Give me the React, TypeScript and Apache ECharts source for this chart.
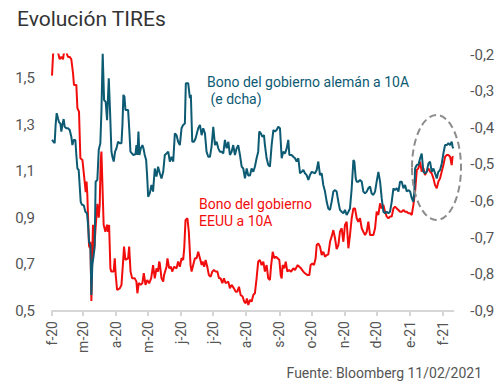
import React, { useEffect, useRef } from "react";
import * as echarts from "echarts";

// ---- Data ----
const START = "2020-02-01";
const END = "2021-02-11";
const monthStarts = ["2020-02-01", "2020-03-01", "2020-04-01", "2020-05-01", "2020-06-01", "2020-07-01", "2020-08-01", "2020-09-01", "2020-10-01", "2020-11-01", "2020-12-01", "2021-01-01", "2021-02-01"];
const monthLabels = ["f-20", "m-20", "a-20", "m-20", "j-20", "j-20", "a-20", "s-20", "o-20", "n-20", "d-20", "e-21", "f-21"];

const leftTicks = ["0,5", "0,7", "0,9", "1,1", "1,3", "1,5"];

// US 10Y (left axis) — days since 2020-02-01
const usDays = [0, 1, 2.5, 4, 5.6, 7.2, 8.8, 10.3, 11.9, 13.4, 15, 16.6, 18.1, 19.7, 20.6, 22.8, 23.8, 25.3, 26.6, 28.5, 30.6, 31.6, 32.4, 33.1, 33.8, 34.7, 35.4, 36, 36.9, 37.8, 38.4, 39.4, 40.6, 42.5, 43.8, 44.7, 45.6, 46.3, 47.2, 48.4, 50, 51.6, 52.5, 53.5, 54.7, 55.6, 57.8, 58.8, 59.7, 61, 63.5, 65.1, 66.6, 67.5, 68.8, 71.3, 72.3, 73.6, 75.1, 77.6, 79.1, 80, 81.3, 83.1, 84.7, 86, 87.6, 89.2, 91, 92.9, 94.7,
  96.3, 97.9, 99.4, 100.4, 101, 102.6, 104.2, 105, 107.3, 108.2, 109.8, 111.4, 112.6, 114.5, 116.7, 118.2, 119.8, 121.4, 122.9, 123.9, 125.1, 126.9, 128.2, 129.8, 130.8, 132.3, 133.9, 135.5, 137, 138.6, 140.2, 141.1, 142.6, 143.9, 145.5, 147, 148.6, 150.2, 151.7, 153.3, 154.9, 156.5, 158, 159.6, 161.1, 162.7, 165.2, 166.7, 168.3, 170.5, 172.1, 173.6, 175.2, 176.7, 178.6, 180.1, 181.4, 182.6, 183.9, 185.5, 187, 188.6,
  190.1, 191.7, 193.2, 194.8, 196.4, 198, 199.5, 201.1, 202.6, 204.2, 205.2, 206.8, 208.3, 209.8, 211.4, 213, 214.3, 215.2, 216.1, 217.7, 219, 220.5, 222.1, 224, 226.1, 227.7, 230.2, 231.7, 233.3, 235.5, 237, 239.5, 241.1, 242.3, 243.9, 245.5, 247, 248, 249.5, 251.1, 252.7, 254.2, 255.8, 257.4, 258.9, 260.5, 262, 263.6, 265.2, 266.7, 268.3, 269.8, 271.4, 273, 274.5, 276.1, 277.7, 279.2, 280.8, 282.4,
  283.9, 285.5, 287, 288.6, 290.2, 291.7, 293.3, 294.9, 296.4, 298, 299.5, 301.1, 302.7, 304.2, 305.8, 307.4, 308.9, 310.5, 312, 313.6, 315.2, 316.7, 318.3, 319.9, 321.4, 323, 324.6, 326.1, 327.7, 329.3, 330.8, 332.4, 333.9, 335.5, 337.1, 338.6, 340.2, 341.8, 343.3, 344.9, 346.4, 348, 349.5, 351.1, 352.7, 354.2, 355.8, 357.4, 358.9, 360.5, 362, 363.6, 365.2, 366.7, 368.3, 369.9, 371.4, 373, 374.5, 375.3, 376];
const usYield = [1.51, 1.6, 1.64, 1.63, 1.61, 1.58, 1.59, 1.58, 1.63, 1.61, 1.59, 1.59, 1.58, 1.52, 1.47, 1.47, 1.37, 1.355, 1.155, 1.148, 1.055, 1.01, 1.055, 1.0, 0.9, 0.78, 0.77, 0.797, 0.543, 0.754, 0.87, 0.754, 0.84, 0.96, 0.9, 0.955, 1.14, 1.184, 1.05, 0.87, 0.84, 0.87, 0.84, 0.869, 0.683, 0.669, 0.669, 0.726, 0.655, 0.59, 0.597, 0.612, 0.712, 0.776, 0.719, 0.726, 0.776, 0.669, 0.64, 0.64, 0.626, 0.576, 0.62, 0.612, 0.62, 0.662, 0.612, 0.633, 0.619, 0.64, 0.697,
  0.64, 0.683, 0.669, 0.712, 0.704, 0.64, 0.626, 0.654, 0.69, 0.726, 0.683, 0.69, 0.669, 0.69, 0.683, 0.712, 0.69, 0.726, 0.719, 0.77, 0.89, 0.898, 0.84, 0.697, 0.669, 0.697, 0.726, 0.726, 0.754, 0.726, 0.697, 0.712, 0.69, 0.719, 0.69, 0.654, 0.647, 0.669, 0.676, 0.669, 0.669, 0.64, 0.64, 0.619, 0.64, 0.619, 0.626, 0.597, 0.612, 0.597, 0.583, 0.583, 0.604, 0.569, 0.562, 0.54, 0.533, 0.554, 0.526, 0.548, 0.54, 0.569,
  0.576, 0.64, 0.712, 0.719, 0.697, 0.712, 0.669, 0.697, 0.64, 0.633, 0.69, 0.754, 0.726, 0.733, 0.726, 0.719, 0.654, 0.64, 0.697, 0.683, 0.712, 0.669, 0.676, 0.669, 0.683, 0.676, 0.697, 0.69, 0.683, 0.669, 0.662, 0.654, 0.654, 0.697, 0.704, 0.697, 0.726, 0.783, 0.79, 0.776, 0.74, 0.754, 0.733, 0.74, 0.743, 0.797, 0.819, 0.847, 0.812, 0.766, 0.783, 0.84, 0.855, 0.797, 0.869, 0.883, 0.769, 0.826, 0.898, 0.94,
  0.94, 0.898, 0.883, 0.898, 0.855, 0.84, 0.826, 0.84, 0.883, 0.826, 0.826, 0.826, 0.855, 0.926, 0.912, 0.962, 0.94, 0.955, 0.926, 0.905, 0.898, 0.905, 0.905, 0.94, 0.948, 0.94, 0.933, 0.926, 0.926, 0.933, 0.926, 0.926, 0.919, 0.919, 0.912, 0.955, 1.012, 1.105, 1.112, 1.141, 1.098, 1.112, 1.083, 1.098, 1.112, 1.098, 1.09, 1.069, 1.04, 1.026, 1.055, 1.069, 1.098, 1.126, 1.162, 1.169, 1.169, 1.162, 1.126, 1.162, 1.16];

// German 10Y (right axis)
const deDays = [0, 0.9, 2.5, 3.4, 4.4, 5.6, 6.6, 7.8, 8.8, 9.7, 10.9, 11.9, 13.4, 15, 16.6, 18.1, 19.1, 20.3, 21.9, 22.8, 23.8, 25, 25.9, 26.9, 28.1, 29.7, 31.3, 32.8, 33.8, 34.7, 36, 36.9, 37.8, 39.1, 40, 40.9, 42.5, 43.8, 45.3, 46.3, 47.5, 48.8, 50.3, 51.6, 53.2, 54.4, 55.7, 56.6, 57.8, 59.1, 60.4, 61.9, 63.5, 65.1, 66, 66.9, 67.9, 68.8, 71.3, 72.5, 73.5, 76, 78.2, 79.1, 80, 81, 81.9, 83.2, 84.7, 85.7, 86.9, 88.2, 89.1, 90.1, 91.6, 93.2, 94.7,
  96.3, 97.9, 99.4, 101, 102.6, 104.2, 105.7, 107.3, 108.9, 110.4, 112, 113.6, 115.1, 116.7, 118.2, 119.8, 121.4, 122.9, 124.5, 125.4, 127.6, 129.2, 130.1, 131.4, 133, 134.5, 137, 138.6, 140.2, 141.7, 143.3, 144.8, 146.4, 148, 149.5, 151.1, 152.7, 154.2, 155.8, 157.4, 158.9, 160.5, 162, 163.6, 165.2, 166.7, 168.3, 169.8, 171.4, 173, 174.5, 176.1, 177.7, 179.2, 180.8, 182.4, 183.9, 185.5, 187, 188.6,
  190.1, 191.7, 193.2, 194.2, 195.7, 197, 198.6, 199.5, 201.1, 202.6, 204.2, 205.8, 207.4, 208.9, 210.5, 212, 213.6, 215.2, 216.7, 218.3, 219.9, 221.4, 222.4, 224.5, 226.1, 227.7, 229.2, 230.8, 232.4, 233.9, 235.5, 237, 238.6, 240.2, 241.7, 243.3, 246.4, 248, 249.5, 251.1, 252.7, 254.2, 255.8, 257.4, 258.9, 260.5, 262, 263.6, 265.2, 266.7, 268.3, 269.8, 271.4, 273, 274.5, 276.1, 277.7,
  279.2, 280.8, 282.4, 283.3, 284.6, 285.5, 287, 288.6, 290.2, 291.7, 293.3, 294.9, 296.4, 298, 299.5, 301.1, 302.7, 304.2, 305.8, 307.4, 308.9, 310.5, 312, 313.6, 315.2, 316.7, 318.3, 319.9, 321.4, 323, 324.6, 326.1, 327.7, 329.3, 330.8, 332.4, 333.9, 335.5, 337.1, 338.6, 339.5, 340.2, 341.8, 343.3, 344.9, 346.4, 348, 349.5, 351.1, 352.7, 354.2, 355.8, 357.4, 358.9, 360.5, 362, 363.6, 365.2, 366.7, 368.3, 369.9, 371.4, 373, 374.5, 375.3, 376];
const deYield = [-0.433, -0.436, -0.442, -0.392, -0.36, -0.374, -0.385, -0.388, -0.41, -0.392, -0.376, -0.397, -0.401, -0.401, -0.406, -0.424, -0.447, -0.433, -0.433, -0.474, -0.511, -0.515, -0.556, -0.602, -0.61, -0.611, -0.629, -0.633, -0.665, -0.711, -0.72, -0.856, -0.774, -0.747, -0.72, -0.547, -0.542, -0.46, -0.442, -0.356, -0.197, -0.324, -0.329, -0.379, -0.265, -0.356, -0.465, -0.479, -0.492, -0.465, -0.456, -0.438, -0.442, -0.442, -0.392, -0.31, -0.315, -0.351, -0.351, -0.41, -0.465, -0.474, -0.472, -0.447, -0.474, -0.41, -0.474, -0.456, -0.447, -0.456, -0.474, -0.488, -0.529, -0.588, -0.579, -0.556, -0.574,
  -0.511, -0.533, -0.506, -0.524, -0.538, -0.52, -0.474, -0.47, -0.465, -0.492, -0.479, -0.492, -0.415, -0.42, -0.438, -0.447, -0.401, -0.392, -0.388, -0.278, -0.278, -0.319, -0.31, -0.438, -0.438, -0.429, -0.401, -0.392, -0.42, -0.401, -0.415, -0.465, -0.479, -0.479, -0.451, -0.397, -0.447, -0.438, -0.456, -0.465, -0.465, -0.47, -0.433, -0.456, -0.438, -0.474, -0.465, -0.447, -0.474, -0.456, -0.447, -0.474, -0.506, -0.511, -0.538, -0.511, -0.53, -0.53, -0.511, -0.52,
  -0.506, -0.483, -0.465, -0.41, -0.415, -0.424, -0.42, -0.447, -0.483, -0.501, -0.506, -0.447, -0.406, -0.41, -0.406, -0.397, -0.401, -0.483, -0.465, -0.47, -0.456, -0.433, -0.474, -0.474, -0.479, -0.483, -0.492, -0.483, -0.524, -0.52, -0.515, -0.524, -0.529, -0.542, -0.529, -0.52, -0.524, -0.515, -0.492, -0.529, -0.524, -0.556, -0.574, -0.602, -0.62, -0.624, -0.602, -0.574, -0.57, -0.574, -0.602, -0.624, -0.629, -0.633, -0.624, -0.638, -0.629,
  -0.62, -0.565, -0.488, -0.492, -0.538, -0.547, -0.547, -0.542, -0.547, -0.574, -0.579, -0.574, -0.565, -0.56, -0.579, -0.583, -0.574, -0.547, -0.52, -0.547, -0.592, -0.629, -0.633, -0.629, -0.633, -0.629, -0.602, -0.565, -0.57, -0.565, -0.574, -0.547, -0.547, -0.565, -0.556, -0.574, -0.57, -0.574, -0.592, -0.602, -0.574, -0.511, -0.501, -0.501, -0.483, -0.47, -0.52, -0.524, -0.52, -0.497, -0.492, -0.52, -0.511, -0.524, -0.538, -0.52, -0.515, -0.497, -0.47, -0.447, -0.447, -0.442, -0.447, -0.438, -0.451, -0.456];

const US_NAME = "Bono del gobierno EEUU a 10A";
const DE_NAME = "Bono del gobierno alemán a 10A";

// ---- Helpers ----
const DAY = 86400000;
const dayOf = (s: string) => (Date.parse(s) - Date.parse(START)) / DAY;
const tickDays = monthStarts.map(dayOf);
const maxDay = dayOf(END);
const zip = (xs: number[], ys: number[]) => xs.map((x, i) => [x, ys[i]]);
const fmt = (v: number) => v.toFixed(1).replace(".", ",");

const FONT = "Roboto, 'Noto Sans', sans-serif";
const TEAL = "#0d5a73";
const RED = "#f20d0d";
const GREY_TXT = "#555555";

export default function App() {
  const ref = useRef<HTMLDivElement>(null);

  useEffect(() => {
    if (!ref.current) return;
    const chart = echarts.init(ref.current, undefined, { renderer: "svg" });
    chart.setOption({
      animation: false,
      backgroundColor: "#ffffff",
      textStyle: { fontFamily: FONT },
      grid: { left: 52, right: 46.7, top: 54.6, bottom: 80 },
      xAxis: {
        type: "value",
        min: 0,
        max: maxDay,
        splitLine: { show: false },
        axisLine: { show: true, lineStyle: { color: "#d6d6d6", width: 2 } },
        axisTick: { show: true, customValues: tickDays, length: 5, lineStyle: { color: "#d6d6d6", width: 2 } },
        axisLabel: {
          customValues: tickDays,
          rotate: 90,
          margin: 10,
          fontSize: 14,
          fontFamily: FONT,
          color: GREY_TXT,
          formatter: (v: number) => {
            const i = tickDays.findIndex((d) => Math.abs(d - v) < 0.01);
            return i >= 0 ? monthLabels[i] : "";
          },
        },
      },
      yAxis: [
        {
          type: "value",
          position: "left",
          min: 0.5,
          max: 1.6,
          interval: 0.2,
          splitLine: { show: false },
          axisLine: { show: false },
          axisTick: { show: false },
          axisLabel: {
            margin: 17,
            fontSize: 15,
            fontFamily: FONT,
            color: GREY_TXT,
            formatter: (v: number) => {
              const s = fmt(v);
              return leftTicks.includes(s) ? s : "";
            },
          },
        },
        {
          type: "value",
          position: "right",
          min: -0.9,
          max: -0.2,
          interval: 0.1,
          splitLine: { show: false },
          axisLine: { show: false },
          axisTick: { show: false },
          axisLabel: { margin: 17, fontSize: 15, fontFamily: FONT, color: GREY_TXT, formatter: (v: number) => fmt(v) },
        },
      ],
      series: [
        {
          name: US_NAME,
          type: "line",
          yAxisIndex: 0,
          data: zip(usDays, usYield),
          showSymbol: false,
          lineStyle: { color: RED, width: 2 },
          itemStyle: { color: RED },
          clip: true,
        },
        {
          name: DE_NAME,
          type: "line",
          yAxisIndex: 1,
          data: zip(deDays, deYield),
          showSymbol: false,
          lineStyle: { color: TEAL, width: 2 },
          itemStyle: { color: TEAL },
          clip: true,
        },
      ],
      graphic: [
        {
          type: "text",
          left: 17,
          top: 8,
          style: { text: "Evolución TIREs", font: `21px ${FONT}`, fill: "#333333" },
        },
        {
          type: "text",
          x: 207,
          y: 82,
          style: { text: DE_NAME, font: `14px ${FONT}`, fill: TEAL, verticalAlign: "middle" },
        },
        {
          type: "text",
          x: 207,
          y: 99,
          style: { text: " (e dcha)", font: `14px ${FONT}`, fill: TEAL, verticalAlign: "middle" },
        },
        {
          type: "text",
          x: 199,
          y: 204,
          style: { text: "Bono del gobierno", font: `14px ${FONT}`, fill: RED, verticalAlign: "middle" },
        },
        {
          type: "text",
          x: 199,
          y: 221,
          style: { text: "EEUU a 10A", font: `14px ${FONT}`, fill: RED, verticalAlign: "middle" },
        },
        {
          type: "ellipse",
          shape: { cx: 436.5, cy: 167.5, rx: 24.5, ry: 52.5 },
          style: { fill: "none", stroke: "#8c8c8c", lineWidth: 2, lineDash: [7, 4] },
          z: 10,
        },
        {
          type: "text",
          x: 482,
          y: 373,
          style: { text: "Fuente: Bloomberg 11/02/2021", font: `14px ${FONT}`, fill: GREY_TXT, align: "right", verticalAlign: "middle" },
        },
      ],
    });
    return () => chart.dispose();
  }, []);

  return <div ref={ref} style={{ position: "fixed", left: 0, top: 0, width: 500, height: 391 }} />;
}
